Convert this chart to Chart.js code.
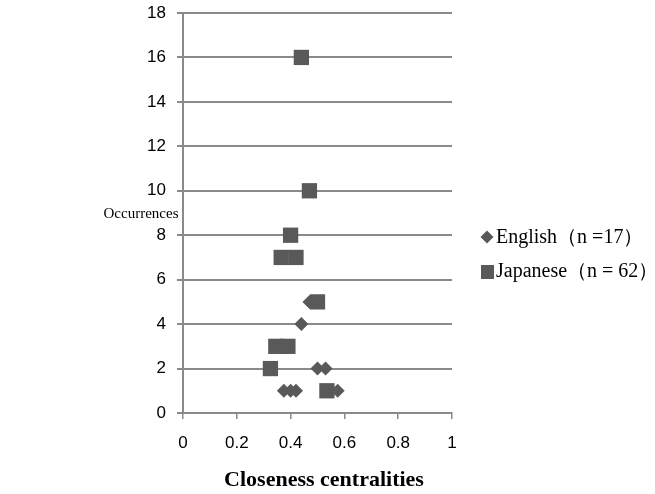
<!DOCTYPE html>
<html>
<head>
<meta charset="utf-8">
<script src="https://cdn.jsdelivr.net/npm/chart.js@4"></script>
<style>
  html, body { margin: 0; padding: 0; background: #fff; }
  #wrap { width: 655px; height: 494px; }
</style>
</head>
<body>
<div id="wrap"><canvas id="chart" width="655" height="494"></canvas></div>
<script>
// DATA
const englishLabel = 'English（n =17）'
const japaneseLabel = 'Japanese（n = 62）'
const englishX = [0.47, 0.44, 0.50, 0.53, 0.375, 0.40, 0.42, 0.575]
const englishY = [5, 4, 2, 2, 1, 1, 1, 1]
const japaneseX = [0.44, 0.47, 0.40, 0.365, 0.42, 0.50, 0.345, 0.39, 0.325, 0.535]
const japaneseY = [16, 10, 8, 7, 7, 5, 3, 3, 2, 1]
const xTicks = [0, 0.2, 0.4, 0.6, 0.8, 1]
const yTicks = [0, 2, 4, 6, 8, 10, 12, 14, 16, 18]
const yTitle = 'Occurrences'
const xTitle = 'Closeness centralities'

const toPoints = (xs, ys) => xs.map((x, i) => ({x, y: ys[i]}))

// STYLE
const markColor = '#595959'
const gridColor = '#8a8a8a'
const sansFont = "'Liberation Sans', Arial, sans-serif"
const serifFont = "'Liberation Serif', 'Times New Roman', serif"

// custom texts: horizontal y title, x title, legend
const extras = {
    id: 'extras',
    afterDraw(chart) {
        const {ctx} = chart
        ctx.save()
        ctx.fillStyle = '#000'
        ctx.textBaseline = 'middle'

        ctx.font = `15px ${serifFont}`
        ctx.textAlign = 'center'
        ctx.fillText(yTitle, 141, 214)

        ctx.font = `bold 22px ${serifFont}`
        ctx.fillText(xTitle, 324, 480)

        // legend
        ctx.textAlign = 'left'
        ctx.font = `20px ${serifFont}`
        ctx.fillStyle = markColor
        // diamond
        ctx.beginPath()
        const dx = 487, dy = 237, dr = 6.5
        ctx.moveTo(dx, dy - dr); ctx.lineTo(dx + dr, dy); ctx.lineTo(dx, dy + dr); ctx.lineTo(dx - dr, dy)
        ctx.closePath(); ctx.fill()
        ctx.fillRect(481, 265, 13, 14)
        ctx.fillStyle = '#000'
        ctx.fillText(englishLabel, 496, 238)
        ctx.fillText(japaneseLabel, 496, 272)
        ctx.restore()
    }
}

const ctx = document.getElementById('chart').getContext('2d')
window.chart = new Chart(ctx, {
    type: 'scatter',
    data: {
        datasets: [
            {
                label: englishLabel,
                data: toPoints(englishX, englishY),
                pointStyle: 'rectRot',
                pointRadius: 7,
                backgroundColor: markColor,
                borderColor: markColor,
                borderWidth: 0,
            },
            {
                label: japaneseLabel,
                data: toPoints(japaneseX, japaneseY),
                pointStyle: 'rect',
                pointRadius: 10.8,
                backgroundColor: markColor,
                borderColor: markColor,
                borderWidth: 0,
            },
        ]
    },
    options: {
        responsive: false,
        animation: false,
        layout: { padding: { left: 0, right: 203, top: 13, bottom: 0 } },
        plugins: { legend: { display: false }, tooltip: { enabled: false } },
        scales: {
            x: {
                type: 'linear', min: 0, max: 1,
                afterBuildTicks: s => { s.ticks = xTicks.map(v => ({value: v})) },
                afterFit: s => { s.height = 81; s.paddingLeft = 0; s.paddingRight = 0 },
                grid: { drawOnChartArea: false, drawTicks: true, tickLength: 6, color: gridColor, lineWidth: 1.5 },
                border: { color: gridColor, width: 2 },
                ticks: { color: '#000', font: { family: sansFont, size: 17 }, padding: 14, maxRotation: 0,
                         callback: v => String(v) },
            },
            y: {
                type: 'linear', min: 0, max: 18,
                afterBuildTicks: s => { s.ticks = yTicks.map(v => ({value: v})) },
                afterFit: s => { s.width = 183; s.paddingTop = 0; s.paddingBottom = 0 },
                grid: { drawTicks: true, tickLength: 6, color: gridColor, lineWidth: 2 },
                border: { color: gridColor, width: 2 },
                ticks: { color: '#000', font: { family: sansFont, size: 17 }, padding: 11 },
            }
        }
    },
    plugins: [extras]
})
</script>
</body>
</html>
